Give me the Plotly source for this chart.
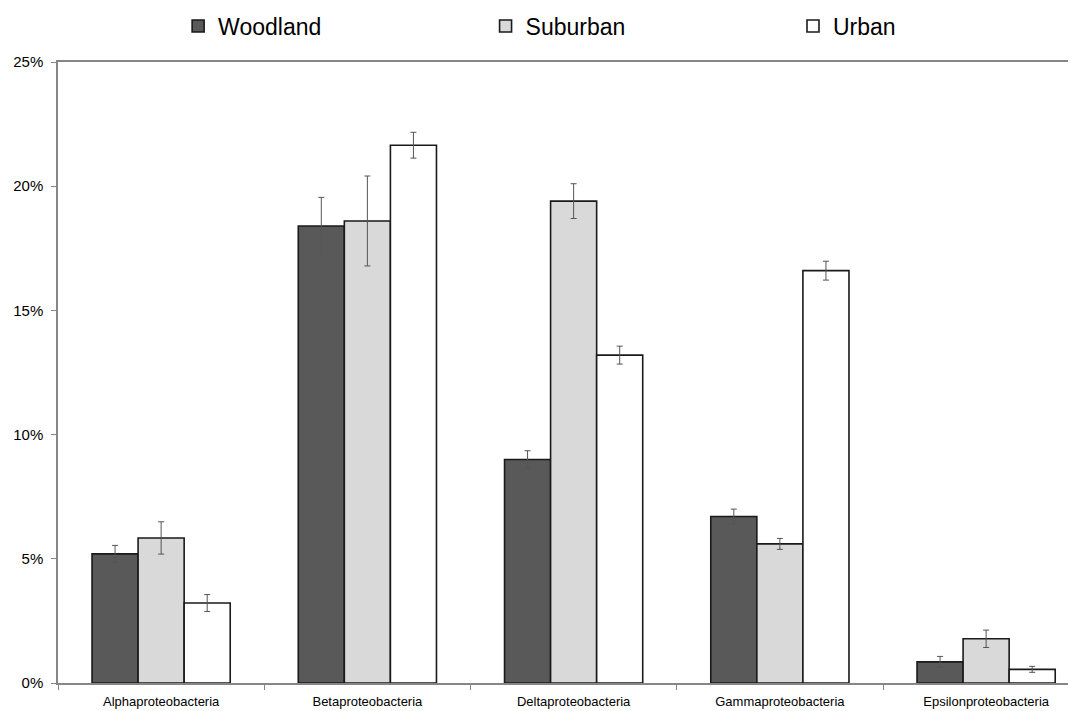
import plotly.graph_objects as go

categories = ["Alphaproteobacteria", "Betaproteobacteria", "Deltaproteobacteria",
              "Gammaproteobacteria", "Epsilonproteobacteria"]
series_names = ["Woodland", "Suburban", "Urban"]
woodland = [5.2, 18.4, 9.0, 6.7, 0.85]
woodland_err = [0.34, 1.15, 0.35, 0.3, 0.22]
suburban = [5.84, 18.6, 19.4, 5.6, 1.78]
suburban_err = [0.65, 1.81, 0.7, 0.22, 0.35]
urban = [3.22, 21.65, 13.2, 16.6, 0.55]
urban_err = [0.34, 0.52, 0.36, 0.38, 0.12]
y_ticks = [0, 5, 10, 15, 20, 25]
y_tick_labels = ["0%", "5%", "10%", "15%", "20%", "25%"]

colors = ["#595959", "#d9d9d9", "#ffffff"]
values = [woodland, suburban, urban]
errors = [woodland_err, suburban_err, urban_err]
legend_ids = ["legend", "legend2", "legend3"]

fig = go.Figure()
for name, vals, errs, col, lg in zip(series_names, values, errors, colors, legend_ids):
    fig.add_trace(go.Bar(
        name=name, x=categories, y=vals,
        marker=dict(color=col, line=dict(color="#1a1a1a", width=1.6)),
        error_y=dict(type="data", array=errs, visible=True, color="#555555",
                     thickness=1, width=3),
        legend=lg, showlegend=True,
    ))

font = "Arial, Liberation Sans, sans-serif"
leg_common = dict(orientation="h", yanchor="middle", y=1.058, xanchor="left",
                  font=dict(family=font, size=23, color="#000000"),
                  bgcolor="rgba(0,0,0,0)", visible=True)
fig.update_layout(
    width=1068, height=703,
    showlegend=True,
    margin=dict(l=50, r=0, t=54, b=28, autoexpand=False),
    paper_bgcolor="white", plot_bgcolor="white",
    barmode="group", bargap=0.33, bargroupgap=0,
    font=dict(family=font, size=13, color="#000000"),
    legend=dict(x=0.118, **leg_common),
    legend2=dict(x=0.420, **leg_common),
    legend3=dict(x=0.722, **leg_common),
    xaxis=dict(range=[-0.5, -0.5 + 1018 / 206.25], showline=True, linecolor="#868686",
               linewidth=1.5, mirror=True, ticks="outside", tickson="boundaries",
               ticklen=5, tickcolor="#868686", showgrid=False, zeroline=False,
               ticklabelstandoff=6, tickfont=dict(size=13, family=font)),
    yaxis=dict(range=[0, 25], tickvals=y_ticks, ticktext=y_tick_labels,
               showline=True, linecolor="#868686", linewidth=1.5,
               ticks="outside", ticklen=5, tickcolor="#868686",
               showgrid=False, zeroline=False, ticklabelstandoff=5,
               tickfont=dict(size=15, family=font)),
)

fig.write_html("out.html")
